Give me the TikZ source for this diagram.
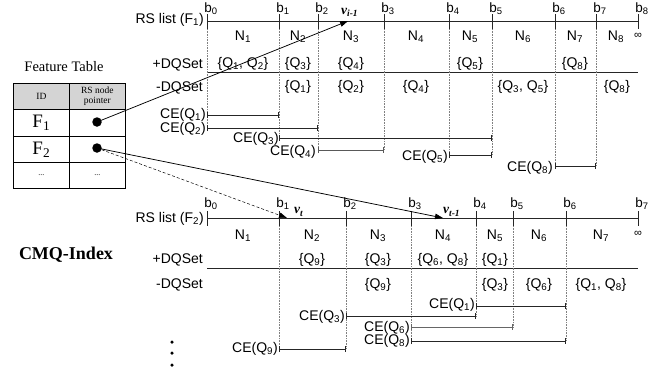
\documentclass[tikz,border=0pt]{standalone}
\usepackage{fontspec}
\setmainfont{Liberation Serif}
\setsansfont{Liberation Sans}
\usetikzlibrary{arrows.meta}
\begin{document}
\begin{tikzpicture}[x=1pt,y=-1pt,
  lab/.style={font=\sffamily\fontsize{14}{15}\selectfont, inner sep=0pt},
  blab/.style={font=\sffamily\fontsize{13.5}{14}\selectfont, inner sep=0pt},
  ser/.style={font=\fontsize{14.5}{16}\selectfont, inner sep=0pt},
  dotv/.style={densely dotted, gray, line width=0.6pt},
  ebar/.style={{Bar[width=6pt]}-{Bar[width=6pt]}, line width=0.75pt, black!85},
  axis/.style={line width=0.8pt, black!85},
  tick/.style={line width=0.8pt, black!85},
  ptr/.style={line width=0.75pt, -{Triangle[length=8pt,width=5.5pt]}},
  pdot/.style={circle, fill=black, inner sep=0pt, minimum size=9.5pt},
  vlab/.style={font=\fontsize{13.5}{14}\selectfont\bfseries\itshape, inner sep=0pt},
  cell/.style={draw, line width=0.7pt, minimum width=56pt, inner sep=0pt, anchor=north west}
]
\useasboundingbox (0,0) rectangle (657,373);

% ---------------- Feature table ----------------
\node[ser] (ft) at (64,67) {Feature Table};
\node[cell, fill=black!17, minimum height=26pt] (h1) at (13,83) {};
\node[cell, fill=black!17, minimum height=26pt] (h2) at (69,83) {};
\node[cell, minimum height=27pt] (r11) at (13,109) {};
\node[cell, minimum height=27pt] (r12) at (69,109) {};
\node[cell, minimum height=26pt] (r21) at (13,136) {};
\node[cell, minimum height=26pt] (r22) at (69,136) {};
\node[cell, minimum height=26pt] (r31) at (13,162) {};
\node[cell, minimum height=26pt] (r32) at (69,162) {};
\node[font=\fontsize{9.5}{10}\selectfont, inner sep=0pt] (tid) at (h1.center) {ID};
\node[font=\fontsize{9.5}{10.5}\selectfont, inner sep=0pt, align=center] (tptr) at (h2.center) {RS node\\pointer};
\node[font=\fontsize{19}{20}\selectfont, inner sep=0pt] (tf1) at (r11.center) {F\textsubscript{1}};
\node[font=\fontsize{19}{20}\selectfont, inner sep=0pt] (tf2) at (r21.center) {F\textsubscript{2}};
\node[font=\fontsize{8}{9}\selectfont, inner sep=0pt] (te1) at (r31.center) {...};
\node[font=\fontsize{8}{9}\selectfont, inner sep=0pt] (te2) at (r32.center) {...};
\node[pdot] (d1) at (97,122) {};
\node[pdot] (d2) at (97,148) {};

\node[font=\fontsize{18}{19}\selectfont\bfseries, inner sep=0pt] (cmq) at (66,255) {CMQ-Index};

% ---------------- RS list F1 ----------------
\foreach \n/\x in {0/207,1/279,2/318,3/384,4/449,5/492,6/555,7/596,8/638}{
  \coordinate (a\n) at (\x,21);
  \draw[tick] (\x,14) -- (\x,29);
  \node[blab] (ab\n) at (\x+4,9) {b\textsubscript{\n}};
}
\draw[axis] (a0) -- (a8);
\node[lab, anchor=east] (rs1) at (204,20) {RS list (F\textsubscript{1})};
\node[lab, anchor=east] (pd1) at (203,65) {+DQSet};
\node[lab, anchor=east] (md1) at (203,88) {-DQSet};
\draw[line width=0.8pt, black!85] (207,72) -- (638,72);

% dotted verticals
\foreach \x/\e in {207/128,279/138,318/150,384/150,449/155,492/155,555/166,596/166}{
  \draw[dotv] (\x,29) -- (\x,\e);
}

% N labels
\foreach \n/\x in {1/243,2/298,3/351,4/416,5/470,6/523,7/575}{
  \node[lab] (an\n) at (\x,37) {N\textsubscript{\n}};
}
\node[lab] (an8) at (616,37) {N\textsubscript{8}};
\node[lab, font=\sffamily\fontsize{11}{12}\selectfont] (ainf) at (638,36) {∞};

% +DQSet
\node[lab] (ap1) at (243,64) {\{Q\textsubscript{1}, Q\textsubscript{2}\}};
\node[lab] (ap2) at (298,64) {\{Q\textsubscript{3}\}};
\node[lab] (ap3) at (351,64) {\{Q\textsubscript{4}\}};
\node[lab] (ap5) at (470,64) {\{Q\textsubscript{5}\}};
\node[lab] (ap7) at (575,64) {\{Q\textsubscript{8}\}};
% -DQSet
\node[lab] (am2) at (298,87) {\{Q\textsubscript{1}\}};
\node[lab] (am3) at (351,87) {\{Q\textsubscript{2}\}};
\node[lab] (am4) at (416,87) {\{Q\textsubscript{4}\}};
\node[lab] (am6) at (523,87) {\{Q\textsubscript{3}, Q\textsubscript{5}\}};
\node[lab] (am8) at (617,87) {\{Q\textsubscript{8}\}};

% CE bars
\coordinate (c1s) at (207,115); \coordinate (c1e) at (279,115);
\coordinate (c2s) at (207,128); \coordinate (c2e) at (318,128);
\coordinate (c3s) at (279,138); \coordinate (c3e) at (492,138);
\coordinate (c4s) at (318,150); \coordinate (c4e) at (384,150);
\coordinate (c5s) at (449,155); \coordinate (c5e) at (492,155);
\coordinate (c8s) at (555,166); \coordinate (c8e) at (596,166);
\draw[ebar] (c1s) -- (c1e);
\draw[ebar] (c2s) -- (c2e);
\draw[ebar] (c3s) -- (c3e);
\draw[ebar, black!65] (c4s) -- (c4e);
\draw[ebar] (c5s) -- (c5e);
\draw[ebar] (c8s) -- (c8e);
\node[lab, anchor=east] (ce1) at (206,114.5) {CE(Q\textsubscript{1})};
\node[lab, anchor=east] (ce2) at (206,128.5) {CE(Q\textsubscript{2})};
\node[lab, anchor=east] (ce3) at (279,139) {CE(Q\textsubscript{3})};
\node[lab, anchor=east] (ce4) at (316,152) {CE(Q\textsubscript{4})};
\node[lab, anchor=east] (ce5) at (448,157) {CE(Q\textsubscript{5})};
\node[lab, anchor=east] (ce8) at (553,168) {CE(Q\textsubscript{8})};

% ---------------- RS list F2 ----------------
\foreach \n/\x in {0/207,1/279,2/346,3/411,4/476,5/513,6/566,7/638}{
  \coordinate (g\n) at (\x,218);
  \draw[tick] (\x,211) -- (\x,226);
  \node[blab] (gb\n) at (\x+4,204) {b\textsubscript{\n}};
}
\draw[axis] (g0) -- (g7);
\node[lab, anchor=east] (rs2) at (204,219) {RS list (F\textsubscript{2})};
\node[lab, anchor=east] (pd2) at (203,260) {+DQSet};
\node[lab, anchor=east] (md2) at (203,285) {-DQSet};
\draw[line width=0.8pt, black!85] (207,268) -- (638,268);

\foreach \x/\e in {279/349,346/349,411/341,476/316,513/327,566/341}{
  \draw[dotv] (\x,226) -- (\x,\e);
}

\node[lab] (gn1) at (243,236) {N\textsubscript{1}};
\node[lab] (gn2) at (312,236) {N\textsubscript{2}};
\node[lab] (gn3) at (378,236) {N\textsubscript{3}};
\node[lab] (gn4) at (443,236) {N\textsubscript{4}};
\node[lab] (gn5) at (495,236) {N\textsubscript{5}};
\node[lab] (gn6) at (539,236) {N\textsubscript{6}};
\node[lab] (gn7) at (601,236) {N\textsubscript{7}};
\node[lab, font=\sffamily\fontsize{11}{12}\selectfont] (ginf) at (638,234) {∞};

\node[lab] (gp2) at (312,260) {\{Q\textsubscript{9}\}};
\node[lab] (gp3) at (378,260) {\{Q\textsubscript{3}\}};
\node[lab] (gp4) at (443,260) {\{Q\textsubscript{6}, Q\textsubscript{8}\}};
\node[lab] (gp5) at (495,260) {\{Q\textsubscript{1}\}};
\node[lab] (gm3) at (378,285) {\{Q\textsubscript{9}\}};
\node[lab] (gm5) at (495,285) {\{Q\textsubscript{3}\}};
\node[lab] (gm6) at (539,285) {\{Q\textsubscript{6}\}};
\node[lab] (gm7) at (601,285) {\{Q\textsubscript{1}, Q\textsubscript{8}\}};

\coordinate (e1s) at (476,306); \coordinate (e1e) at (566,306);
\coordinate (e3s) at (346,316); \coordinate (e3e) at (476,316);
\coordinate (e6s) at (411,327); \coordinate (e6e) at (513,327);
\coordinate (e8s) at (411,341); \coordinate (e8e) at (566,341);
\coordinate (e9s) at (279,349); \coordinate (e9e) at (346,349);
\draw[ebar] (e1s) -- (e1e);
\draw[ebar] (e3s) -- (e3e);
\draw[ebar, black!60] (e6s) -- (e6e);
\draw[ebar] (e8s) -- (e8e);
\draw[ebar] (e9s) -- (e9e);
\node[lab, anchor=east] (de1) at (475,305) {CE(Q\textsubscript{1})};
\node[lab, anchor=east] (de3) at (345,317) {CE(Q\textsubscript{3})};
\node[lab, anchor=east] (de6) at (410,328) {CE(Q\textsubscript{6})};
\node[lab, anchor=east] (de8) at (410,341) {CE(Q\textsubscript{8})};
\node[lab, anchor=east] (de9) at (278,349) {CE(Q\textsubscript{9})};

% vertical ellipsis
\node[circle, fill=black, inner sep=0pt, minimum size=3.5pt] (v1) at (172,342) {};
\node[circle, fill=black, inner sep=0pt, minimum size=3.5pt] (v2) at (172,353) {};
\node[circle, fill=black, inner sep=0pt, minimum size=3.5pt] (v3) at (172,365) {};

% ---------------- pointers ----------------
\coordinate (t1) at (348,21);
\coordinate (t2) at (443,218);
\coordinate (t3) at (287,218);
\draw[ptr] (d1.center) -- (t1);
\draw[ptr] (d2.center) -- (t2);
\draw[ptr, densely dashed, line width=0.5pt] (d2.center) -- (t3);
\node[vlab, anchor=west] (vi) at (341,12) {v\textsubscript{i-1}};
\node[vlab, anchor=west] (vt) at (294,212) {v\textsubscript{t}};
\node[vlab, anchor=west] (vt1) at (443,212) {v\textsubscript{t-1}};
\end{tikzpicture}
\end{document}
